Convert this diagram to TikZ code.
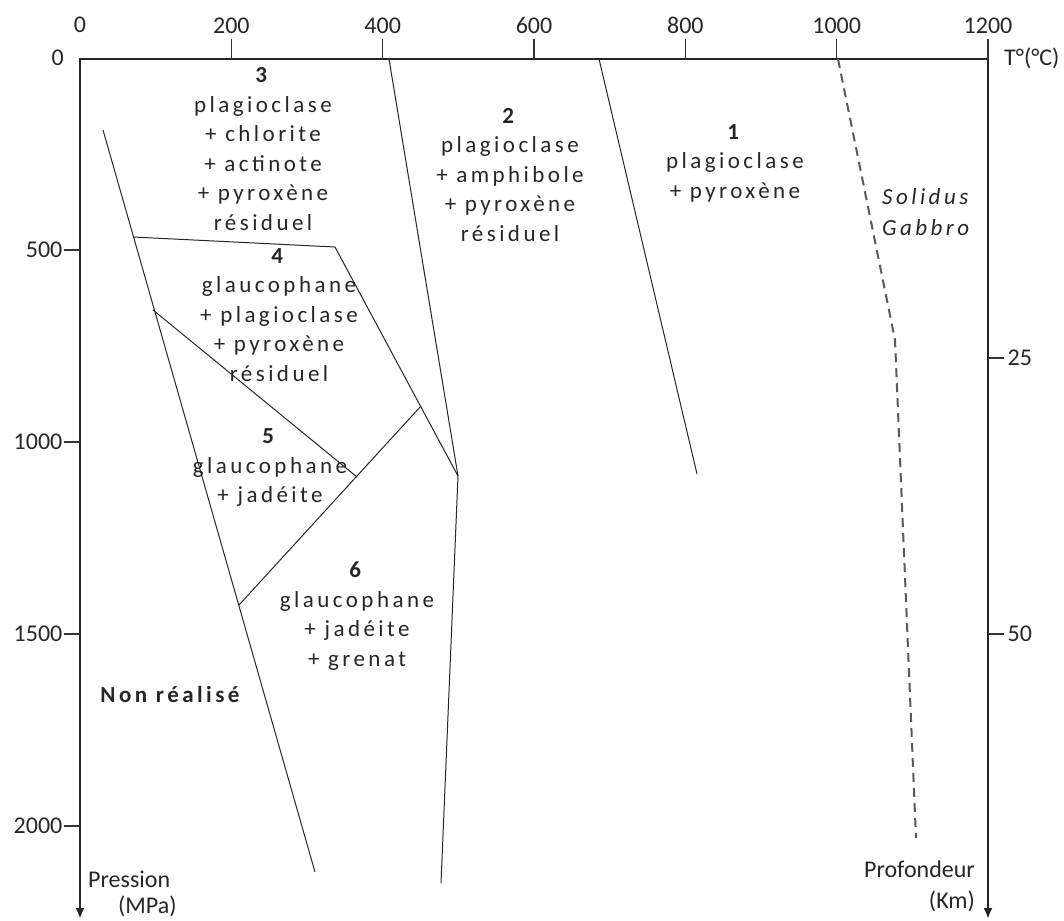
\documentclass[tikz,border=0pt]{standalone}
\usepackage{fontspec}
\setmainfont{Carlito}
\newfontfamily\zonefont[LetterSpace=15]{Carlito}
\usetikzlibrary{arrows.meta,positioning}

\tikzset{
  axe/.style={line width=2.6pt, black!85},
  limite/.style={line width=1pt, black!85},
  solidus/.style={line width=2pt, black!65, dash pattern=on 9pt off 6pt},
  graduation/.style={line width=1.2pt, black!80},
  valeur/.style={inner sep=0pt, font=\fontsize{24}{29}\selectfont, text=black!85},
  zone/.style={align=center, inner sep=0pt, text=black!85,
    font=\zonefont\fontsize{23}{29.5}\selectfont},
}

\begin{document}
\begin{tikzpicture}[x=1pt,y=-1pt]
  \useasboundingbox (0,0) rectangle (1064,920);

  % axes
  \coordinate (O) at (80,59);
  \coordinate (Tmax) at (988,59);
  \coordinate (Pbas) at (80,919);
  \coordinate (Zbas) at (988,919);
  \draw[axe, {Latex[length=11pt,width=9pt]}-{Latex[length=11pt,width=9pt]}]
    (Pbas) -- (O) -- (Tmax) -- (Zbas);

  % graduations
  \node[valeur, anchor=south] (t0) at (80,33) {0};
  \foreach \t in {200,400,...,1200}
    \draw[graduation] ({80+\t*0.75667},59) -- ++(0,-20) node[valeur, above=5pt] (t\t) {\t};
  \node[valeur, anchor=east] (p0) at (64,58) {0};
  \foreach \p/\y in {500/250,1000/442,1500/634,2000/826}
    \draw[graduation] (80,\y) -- ++(-16,0) node[valeur, left=1pt] (p\p) {\p};
  \foreach \z/\y in {25/358,50/634}
    \draw[graduation] (988,\y) -- ++(16,0) node[valeur, right=3pt] (z\z) {\z};

  \node[valeur, anchor=west] (temp) at (1004,58) {T°(°C)};
  \node[valeur, anchor=west] (pression) at (88,879) {Pression};
  \node[valeur, anchor=west] (mpa) at (118,906) {(MPa)};
  \node[valeur, anchor=east] (prof) at (975,869) {Profondeur};
  \node[valeur, anchor=east] (km) at (975,901) {(Km)};

  % limites des domaines
  \coordinate (a1) at (103,130);
  \coordinate (a2) at (315,872);
  \coordinate (b1) at (133,237);
  \coordinate (b2) at (335,247);
  \coordinate (c1) at (421,406);
  \coordinate (j) at (458,476);
  \coordinate (d1) at (389,59);
  \coordinate (d2) at (441,883);
  \coordinate (e1) at (153,310);
  \coordinate (e2) at (357,477);
  \coordinate (f1) at (239,605);
  \coordinate (g1) at (599,59);
  \coordinate (g2) at (697,474);
  \draw[limite] (a1) -- (a2);
  \draw[limite] (b1) -- (b2) -- (j);
  \draw[limite] (d1) -- (j) -- (d2);
  \draw[limite] (e1) -- (e2);
  \draw[limite] (f1) -- (c1);
  \draw[limite] (g1) -- (g2);
  \draw[solidus] (838,59) coordinate (s1) -- (895,340) coordinate (s2) -- (916,838) coordinate (s3);

  % domaines
  \node[zone] (dom1) at (735,163) {\textbf{1}\\plagioclase\\+ pyroxène};
  \node[zone] (dom2) at (510,175) {\textbf{2}\\plagioclase\\+ amphibole\\+ pyroxène\\résiduel};
  \node[zone] (dom3) at (263,149) {\textbf{3}\\plagioclase\\+ chlorite\\+ actinote\\+ pyroxène\\résiduel};
  \node[zone] (dom4) at (279,315) {\textbf{4}\\glaucophane\\+ plagioclase\\+ pyroxène\\résiduel};
  \node[zone] (dom5) at (270,468) {\textbf{5}\\glaucophane\\+ jadéite};
  \node[zone] (dom6) at (357,616) {\textbf{6}\\glaucophane\\+ jadéite\\+ grenat};
  \node[zone, font=\zonefont\bfseries\fontsize{23}{29.5}\selectfont] (nonreal) at (170,695) {Non réalisé};
  \node[zone, align=left, anchor=west, font=\zonefont\itshape\fontsize{23}{31}\selectfont] (sol) at (882,212) {Solidus\\Gabbro};
\end{tikzpicture}
\end{document}
